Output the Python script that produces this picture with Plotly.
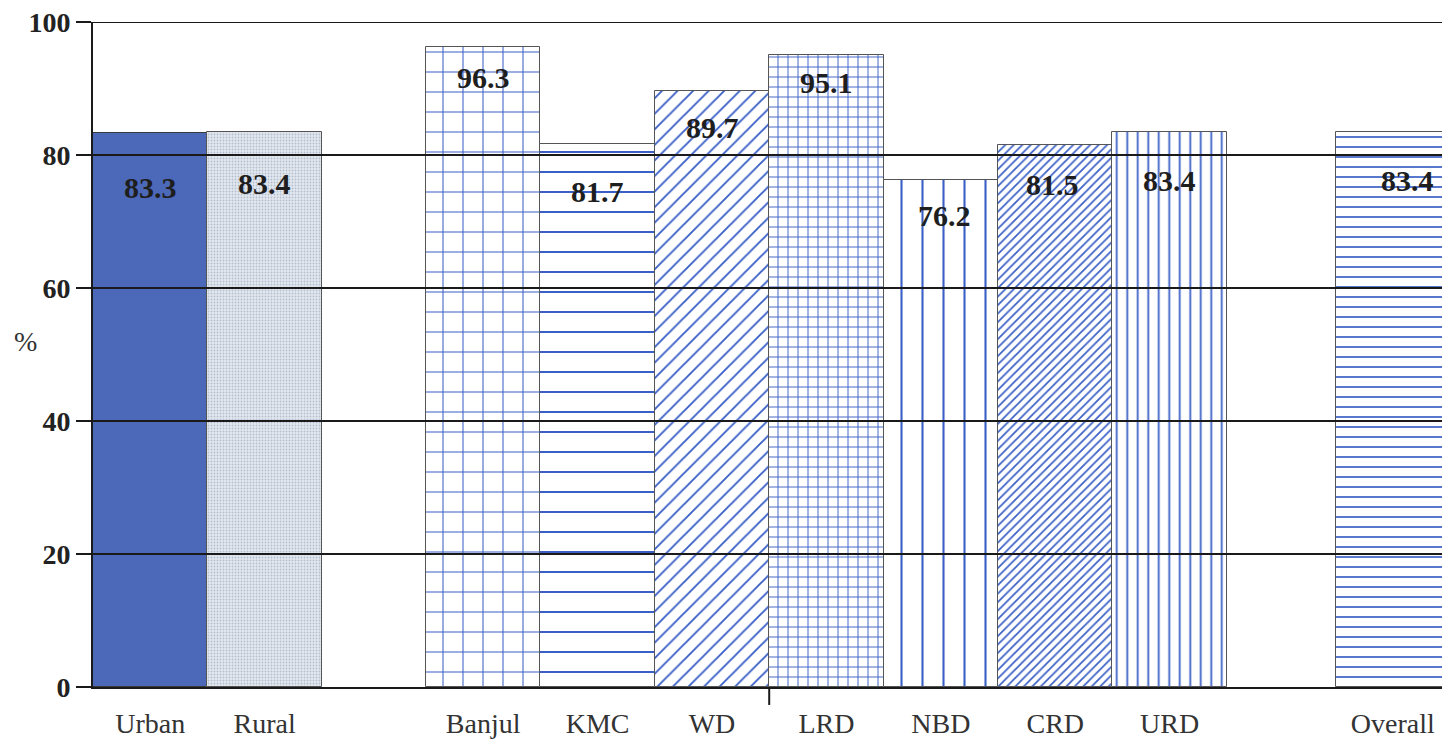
import plotly.graph_objects as go

# ---- data ----
groups = [["Urban", "Rural"],
          ["Banjul", "KMC", "WD", "LRD", "NBD", "CRD", "URD"],
          ["Overall"]]
values = [83.3, 83.4, 96.3, 81.7, 89.7, 95.1, 76.2, 81.5, 83.4, 83.4]
y_ticks = [0, 20, 40, 60, 80, 100]

# ---- styling ----
gaps = [0.91, 0.95]
BLUE = "#3a5fc6"
patterns = [
    dict(shape="", fill="#4c68b8"),
    dict(shape=".", fg="#b3bfd1", bg="#e4e9ef", size=3, solidity=0.3),
    dict(shape="+", fg=BLUE, bg="white", size=20, solidity=0.1),
    dict(shape="-", fg=BLUE, bg="white", size=20, solidity=0.1),
    dict(shape="/", fg=BLUE, bg="white", size=11, solidity=0.17),
    dict(shape="+", fg=BLUE, bg="white", size=10, solidity=0.18),
    dict(shape="|", fg=BLUE, bg="white", size=21, solidity=0.1),
    dict(shape="/", fg=BLUE, bg="white", size=6, solidity=0.28),
    dict(shape="|", fg=BLUE, bg="white", size=10.5, solidity=0.17),
    dict(shape="-", fg=BLUE, bg="white", size=10, solidity=0.17),
]
label_yshift = [54, 51, 31, 48, 37, 28, 35, 39, 48, 48]
label_xshift = [0, 0, 0, 0, 0, 0, 4, -3, 0, 15]

# positions
cats, xs = [], []
x = 0.0
for gi, g in enumerate(groups):
    for c in g:
        cats.append(c)
        xs.append(x)
        x += 1
    if gi < len(gaps):
        x += gaps[gi]

FONT = "Liberation Serif, Times New Roman, serif"
fig = go.Figure()
for i, (c, xv, v) in enumerate(zip(cats, xs, values)):
    p = patterns[i]
    if p["shape"] == "":
        marker = dict(color=p["fill"], line=dict(color="#3a3a3a", width=1))
    else:
        marker = dict(color=p["bg"],
                      pattern=dict(shape=p["shape"], fgcolor=p["fg"], bgcolor=p["bg"],
                                   size=p["size"], solidity=p["solidity"], fillmode="replace"),
                      line=dict(color="#555555", width=1))
    fig.add_trace(go.Bar(x=[xv], y=[v], width=1, marker=marker, showlegend=False,
                         hoverinfo="skip"))
    fig.add_annotation(x=xv, y=v, yshift=-label_yshift[i], xshift=label_xshift[i],
                       text=f"<b>{v:.1f}</b>",
                       showarrow=False, yanchor="middle",
                       font=dict(family=FONT, size=30, color="#1e1e1e"))

# gridlines above bars
for t in y_ticks[1:]:
    fig.add_shape(type="line", xref="paper", yref="y", x0=0, x1=1, y0=t, y1=t,
                  line=dict(color="#1a1a1a", width=2), layer="above")

# small tick mark between WD and LRD below axis
wd = cats.index("WD")
fig.add_shape(type="line", xref="x", yref="paper",
              x0=(xs[wd] + xs[wd + 1]) / 2, x1=(xs[wd] + xs[wd + 1]) / 2,
              y0=0, y1=-0.027, line=dict(color="#1a1a1a", width=2), layer="above")

fig.add_annotation(xref="paper", yref="paper", x=-0.06, y=0.52, text="%",
                   showarrow=False, xanchor="left",
                   font=dict(family=FONT, size=28, color="#333333"))

fig.update_layout(
    width=1442, height=737,
    margin=dict(l=85, r=0, t=14, b=58),
    plot_bgcolor="white", paper_bgcolor="white",
    bargap=0,
    xaxis=dict(range=[-0.5, xs[-1] + 0.5], tickvals=xs, ticktext=cats,
               showgrid=False, zeroline=False, showline=True, linecolor="#1a1a1a",
               linewidth=2, ticks="", ticklabelstandoff=10,
               tickfont=dict(family=FONT, size=28, color="#333333")),
    yaxis=dict(range=[0, 100], tickvals=y_ticks, showgrid=False, zeroline=False,
               showline=True, linecolor="#1a1a1a", linewidth=2,
               ticks="outside", ticklen=15, tickwidth=2, tickcolor="#1a1a1a",
               ticklabeloverflow="allow",
               tickfont=dict(family=FONT, size=28, color="#222222", weight="bold")),
)

fig.write_html("out.html")
